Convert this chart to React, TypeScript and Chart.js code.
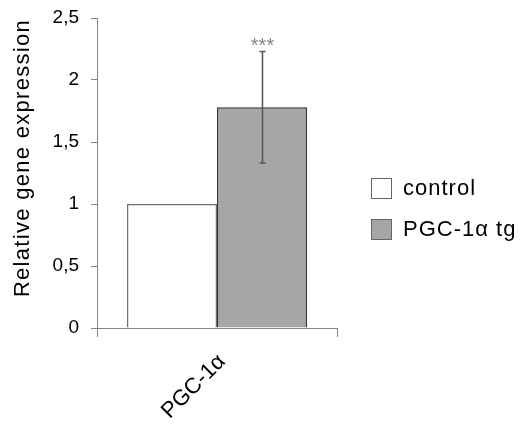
import React, { useEffect, useRef } from "react";
import { Chart, registerables } from "chart.js";

Chart.register(...registerables);

const categories = ["PGC-1α"];
const seriesLabels = ["control", "PGC-1α tg"];
const controlValues = [1];
const tgValues = [1.78];
const tgErrors = [0.45];
const significance = ["***"];
const yTitle = "Relative gene expression";
const yMin = 0;
const yMax = 2.5;
const yStep = 0.5;

const FONT = "'Liberation Sans', Arial, sans-serif";
const AXIS = "#868686";

const extrasPlugin = {
  id: "extras",
  afterDatasetsDraw(chart: any) {
    const ctx = chart.ctx;
    const y = chart.scales.y;
    const meta = chart.getDatasetMeta(1);
    meta.data.forEach((bar: any, i: number) => {
      const v = tgValues[i];
      const e = tgErrors[i];
      const top = y.getPixelForValue(v + e);
      const bot = y.getPixelForValue(v - e);
      const x = Math.round(bar.x) + 0.5;
      ctx.save();
      ctx.strokeStyle = "#555";
      ctx.lineWidth = 1.5;
      ctx.beginPath();
      ctx.moveTo(x, top);
      ctx.lineTo(x, bot);
      ctx.moveTo(x - 3, top);
      ctx.lineTo(x + 3, top);
      ctx.moveTo(x - 3, bot);
      ctx.lineTo(x + 3, bot);
      ctx.stroke();
      ctx.fillStyle = "#888";
      ctx.font = `20px ${FONT}`;
      ctx.textAlign = "center";
      ctx.textBaseline = "alphabetic";
      ctx.fillText(significance[i], x, top + 1);
      ctx.restore();
    });
  },
  afterDraw(chart: any) {
    const ctx = chart.ctx;
    ctx.save();
    // y-axis title
    ctx.translate(29, 158);
    ctx.rotate(-Math.PI / 2);
    ctx.fillStyle = "#000";
    ctx.font = `22px ${FONT}`;
    (ctx as any).letterSpacing = "1.3px";
    ctx.textAlign = "center";
    ctx.textBaseline = "alphabetic";
    ctx.fillText(yTitle, 0, 0);
    ctx.restore();

    // legend
    ctx.save();
    (ctx as any).letterSpacing = "1px";
    ctx.font = `22px ${FONT}`;
    ctx.textBaseline = "middle";
    ctx.textAlign = "left";
    chart.data.datasets.forEach((ds: any, i: number) => {
      const cy = 188 + i * 41;
      ctx.fillStyle = ds.backgroundColor;
      ctx.fillRect(371.5, cy - 9.5, 20, 20);
      ctx.strokeStyle = "#666";
      ctx.lineWidth = 1;
      ctx.strokeRect(371.5, cy - 9.5, 20, 20);
      ctx.fillStyle = "#000";
      ctx.fillText(ds.label, 403, cy + 1);
    });
    ctx.restore();
  },
};

export default function App() {
  const ref = useRef<HTMLCanvasElement | null>(null);
  useEffect(() => {
    if (!ref.current) return;
    const chart = new Chart(ref.current, {
      type: "bar",
      data: {
        labels: categories,
        datasets: [
          {
            label: seriesLabels[0],
            data: controlValues,
            backgroundColor: "#ffffff",
            borderColor: "#707070",
            borderWidth: { top: 1.5, left: 1.5, right: 1.5, bottom: 0 },
            borderSkipped: false,
            categoryPercentage: 0.75,
            barPercentage: 1,
          },
          {
            label: seriesLabels[1],
            data: tgValues,
            backgroundColor: "#a6a6a6",
            borderColor: "#333333",
            borderWidth: { top: 1.5, left: 1.5, right: 1.5, bottom: 0 },
            borderSkipped: false,
            categoryPercentage: 0.75,
            barPercentage: 1,
          },
        ],
      },
      options: {
        responsive: false,
        animation: false,
        devicePixelRatio: 1,
        layout: { padding: { top: 18, right: 183, left: 0, bottom: 0 } },
        plugins: {
          legend: { display: false },
          tooltip: { enabled: false },
        },
        scales: {
          x: {
            offset: true,
            grid: {
              display: true,
              drawOnChartArea: false,
              drawTicks: true,
              tickLength: 9,
              color: AXIS,
              offset: true,
            },
            border: { color: AXIS, width: 1 },
            ticks: {
              color: "#000",
              font: { family: FONT, size: 22 },
              maxRotation: 45,
              minRotation: 45,
              padding: 12,
              labelOffset: 5,
            },
            afterFit: (s: any) => {
              s.height = 104;
            },
          },
          y: {
            min: yMin,
            max: yMax,
            grid: {
              drawOnChartArea: false,
              drawTicks: true,
              tickLength: 6,
              color: AXIS,
            },
            border: { color: AXIS, width: 1 },
            ticks: {
              stepSize: yStep,
              color: "#000",
              font: { family: FONT, size: 19 },
              padding: 12,
              callback: (v: any) => String(v).replace(".", ","),
            },
            afterFit: (s: any) => {
              s.width = 97;
              s.paddingTop = 0;
              s.paddingBottom = 0;
            },
          },
        },
      },
      plugins: [extrasPlugin],
    });
    return () => chart.destroy();
  }, []);
  return (
    <div style={{ position: "absolute", left: 0, top: 0, width: 520, height: 432, background: "#fff" }}>
      <canvas ref={ref} width={520} height={432} />
    </div>
  );
}
